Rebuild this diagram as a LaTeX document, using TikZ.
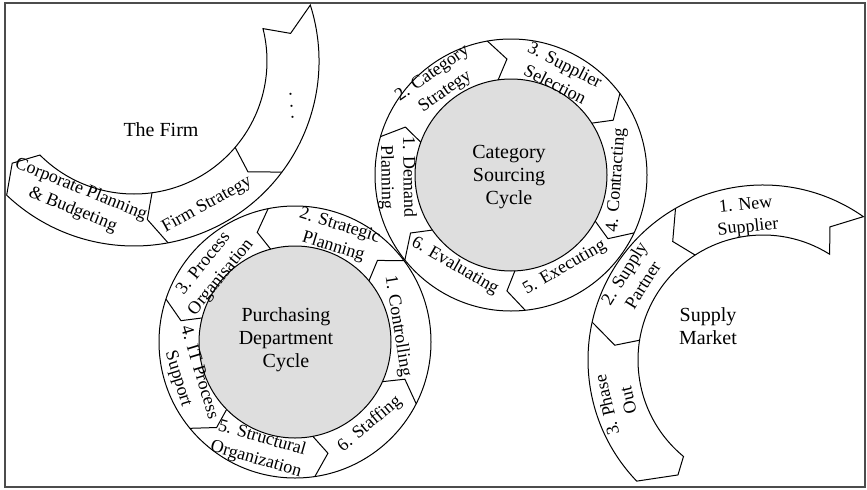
\documentclass[tikz,border=0pt]{standalone}
\usepackage{fontspec}
\setmainfont{Liberation Serif}
\usepackage{tikz}
\definecolor{hubgray}{gray}{0.87}
\tikzstyle{ring} = [draw, line width=0.5pt]
\tikzstyle{lbl} = [font=\fontsize{9}{11}\selectfont, align=center, inner sep=0pt]
\tikzstyle{hub} = [font=\fontsize{10}{11.5}\selectfont, align=center, inner sep=0pt]

\begin{document}
\begin{tikzpicture}[x=0.5pt, y=0.5pt]
    \useasboundingbox (0,0) rectangle (867,489);
    \draw[black!70, line width=0.8pt] (5,2) rectangle (865,486);

    % the firm
    \begin{scope}[shift={(134,428)}]
        \draw[ring] (17.6:185) arc[start angle=17.6, end angle=-133.5, radius=185]
            -- (-140:159) -- (-135:133) arc[start angle=-135, end angle=14.1, radius=133]
            -- (10:159) -- cycle;
        \draw[ring] (-36.9:185) -- (-44.2:159) -- (-40.5:133);
        \draw[ring] (-79.4:185) -- (-85.2:159) -- (-82.2:133);
        \node[hub] (firm) at (27,-69) {The Firm};
        \node[lbl,rotate=-22] (cpb) at (247.6:150) {Corporate Planning\\\& Budgeting};
        \node[lbl,rotate=29] (fst) at (296.9:161.5) {Firm Strategy};
        \node[lbl,rotate=95] (dots) at (-15.9:164) {.\hspace{3.5pt}.\hspace{3.5pt}.};
    \end{scope}

    % category sourcing cycle
    \begin{scope}[shift={(511,314)}]
        \filldraw[ring, fill=hubgray] (0,0) circle (96);
        \draw[ring] (0,0) circle (136);
        \draw[ring] (163.6:136) -- (155.6:116) -- (160:96);
        \draw[ring] (100:136) -- (92:116) -- (97.7:96);
        \draw[ring] (36.8:136) -- (28.2:116) -- (32.7:96);
        \draw[ring] (-25.2:136) -- (-33.3:116) -- (-28.7:96);
        \draw[ring] (-84:136) -- (-92:116) -- (-87.7:96);
        \draw[ring] (218.7:136) -- (210:116) -- (215:96);
        \node[hub] (csc) at (-2,-2) {Category\\Sourcing\\Cycle};
        \node[lbl,rotate=-89] (dem) at (181:114) {1. Demand\\Planning};
        \node[lbl,rotate=35] (cat) at (128:117) {2. Category\\Strategy};
        \node[lbl,rotate=-27] (sup) at (63.9:112) {3. Supplier\\Selection};
        \node[lbl,rotate=86] (con) at (-2.7:106) {4. Contracting};
        \node[lbl,rotate=30] (exe) at (-59.9:107.5) {5. Executing};
        \node[lbl,rotate=-30] (eva) at (238.4:107) {6. Evaluating};
    \end{scope}

    % purchasing department cycle
    \begin{scope}[shift={(295,147)}]
        \filldraw[ring, fill=hubgray] (0,0) circle (96);
        \draw[ring] (0,0) circle (136);
        \draw[ring] (333:136) -- (341.3:116) -- (335.6:96);
        \draw[ring] (36.7:136) -- (44.7:116) -- (39.6:96);
        \draw[ring] (101.4:136) -- (109:116) -- (104.7:96);
        \draw[ring] (161.6:136) -- (169.4:116) -- (165.5:96);
        \draw[ring] (219.4:136) -- (227.5:116) -- (224.6:96);
        \draw[ring] (278.4:136) -- (286.5:116) -- (280.7:96);
        \node[hub] (pdc) at (-9,2) {Purchasing\\Department\\Cycle};
        \node[lbl,rotate=-81] (ctl) at (8.8:104) {1. Controlling};
        \node[lbl,rotate=-17] (str) at (68.5:113) {2. Strategic\\Planning};
        \node[lbl,rotate=51] (pro) at (139.1:109) {3. Process\\Organisation};
        \node[lbl,rotate=-73] (its) at (197.6:112) {4. IT Process\\Support};
        \node[lbl,rotate=-16] (stc) at (251.4:113) {5. Structural\\Organization};
        \node[lbl,rotate=40] (stf) at (312.4:111) {6. Staffing};
    \end{scope}

    % supply market
    \begin{scope}[shift={(763,129)}]
        \draw[ring] (55:175) arc[start angle=55, end angle=223.8, radius=175]
            -- (233.5:143) -- (230.5:125) arc[start angle=230.5, end angle=57.8, radius=125]
            -- (63.3:149) -- cycle;
        \draw[ring] (120:175) -- (127.3:149) -- (122.9:125);
        \draw[ring] (167.5:175) -- (174.3:149) -- (170.9:125);
        \node[hub] (smk) at (-55,34) {Supply\\Market};
        \node[lbl,rotate=6] (nsu) at (96.4:144) {1. New\\Supplier};
        \node[lbl,rotate=58] (spa) at (148:153) {2. Supply\\Partner};
        \node[lbl,rotate=103] (pho) at (196.4:152) {3. Phase\\Out};
    \end{scope}
\end{tikzpicture}
\end{document}
